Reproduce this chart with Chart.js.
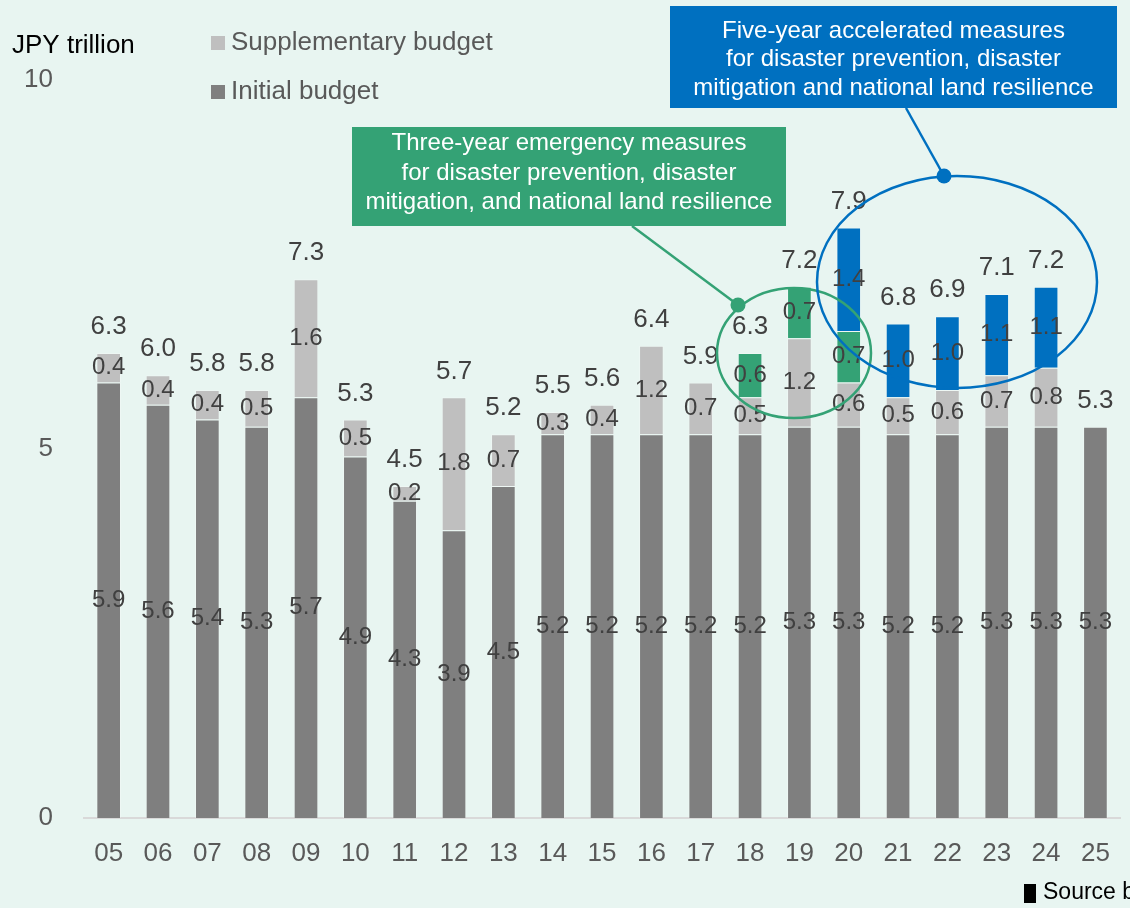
<!DOCTYPE html>
<html>
<head>
<meta charset="utf-8">
<title>Disaster prevention budget</title>
<script src="https://cdn.jsdelivr.net/npm/chart.js@4.4.1/dist/chart.umd.min.js"></script>
<style>
  html, body { margin: 0; padding: 0; background: #e8f5f1; }
  #wrap { width: 1130px; height: 908px; position: relative; overflow: hidden; }
  canvas { display: block; }
</style>
</head>
<body>
<div id="wrap"><canvas id="chart" width="1130" height="908"></canvas></div>
<script>
// Fiscal years (two-digit)
const years = ['05','06','07','08','09','10','11','12','13','14','15','16','17','18','19','20','21','22','23','24','25'];

// JPY trillion
const initialBudget       = [5.9, 5.6, 5.4, 5.3, 5.7, 4.9, 4.3, 3.9, 4.5, 5.2, 5.2, 5.2, 5.2, 5.2, 5.3, 5.3, 5.2, 5.2, 5.3, 5.3, 5.3];
const supplementaryBudget = [0.4, 0.4, 0.4, 0.5, 1.6, 0.5, 0.2, 1.8, 0.7, 0.3, 0.4, 1.2, 0.7, 0.5, 1.2, 0.6, 0.5, 0.6, 0.7, 0.8, null];
const threeYearMeasures   = [null, null, null, null, null, null, null, null, null, null, null, null, null, 0.6, 0.7, 0.7, null, null, null, null, null];
const fiveYearMeasures    = [null, null, null, null, null, null, null, null, null, null, null, null, null, null, null, 1.4, 1.0, 1.0, 1.1, 1.1, null];
const totalLabels         = ['6.3','6.0','5.8','5.8','7.3','5.3','4.5','5.7','5.2','5.5','5.6','6.4','5.9','6.3','7.2','7.9','6.8','6.9','7.1','7.2','5.3'];
const yTicks = [0, 5, 10];

const FONT = "'Liberation Sans', Arial, sans-serif";
const GRAY_DARK = '#7f7f7f';
const GRAY_LIGHT = '#bfbfbf';
const GREEN = '#34a275';
const BLUE = '#0070c0';
const SEGMENT_EDGE = 'rgba(255,255,255,0.25)';

Chart.defaults.font.family = FONT;

// Value labels inside each segment and totals above each stack
const valueLabels = {
  id: 'valueLabels',
  afterDatasetsDraw(chart) {
    const ctx = chart.ctx;
    ctx.save();
    ctx.fillStyle = '#404040';
    ctx.textAlign = 'center';
    ctx.textBaseline = 'middle';
    const tops = new Array(years.length).fill(Infinity);
    const xs = new Array(years.length).fill(0);
    ctx.font = '24px ' + FONT;
    chart.data.datasets.forEach((ds, i) => {
      const meta = chart.getDatasetMeta(i);
      meta.data.forEach((el, j) => {
        const v = ds.data[j];
        if (v === null || v === undefined) return;
        ctx.fillText(v.toFixed(1), el.x, (el.y + el.base) / 2);
        if (el.y < tops[j]) { tops[j] = el.y; xs[j] = el.x; }
      });
    });
    ctx.font = '26px ' + FONT;
    totalLabels.forEach((t, j) => {
      ctx.fillText(t, xs[j], tops[j] - 26);
    });
    ctx.restore();
  }
};

// Header text, legend, callouts and source note
function callout(ctx, box, color, lines, lineYs) {
  ctx.fillStyle = color;
  ctx.fillRect(box.x, box.y, box.w, box.h);
  ctx.fillStyle = '#ffffff';
  ctx.font = '24px ' + FONT;
  ctx.textAlign = 'center';
  ctx.textBaseline = 'middle';
  lines.forEach((l, i) => ctx.fillText(l, box.x + box.w / 2, lineYs[i]));
}
function ring(ctx, e, color, width) {
  ctx.strokeStyle = color;
  ctx.lineWidth = width;
  ctx.beginPath();
  ctx.ellipse(e.cx, e.cy, e.rx, e.ry, 0, 0, Math.PI * 2);
  ctx.stroke();
}
function leader(ctx, from, to, color, width, r) {
  ctx.strokeStyle = color;
  ctx.lineWidth = width;
  ctx.beginPath();
  ctx.moveTo(from.x, from.y);
  ctx.lineTo(to.x, to.y);
  ctx.stroke();
  ctx.fillStyle = color;
  ctx.beginPath();
  ctx.arc(to.x, to.y, r, 0, Math.PI * 2);
  ctx.fill();
}

const decorations = {
  id: 'decorations',
  afterDraw(chart) {
    const ctx = chart.ctx;
    ctx.save();

    // unit
    ctx.fillStyle = '#000000';
    ctx.font = '26px ' + FONT;
    ctx.textAlign = 'left';
    ctx.textBaseline = 'middle';
    ctx.fillText('JPY trillion', 12, 46);

    // legend
    ctx.fillStyle = GRAY_LIGHT;
    ctx.fillRect(211, 36, 14, 14);
    ctx.fillStyle = GRAY_DARK;
    ctx.fillRect(211, 85, 14, 14);
    ctx.fillStyle = '#595959';
    ctx.fillText('Supplementary budget', 231, 43);
    ctx.fillText('Initial budget', 231, 92);

    // three-year emergency measures
    ring(ctx, {cx: 794, cy: 353, rx: 77, ry: 65}, GREEN, 2.5);
    leader(ctx, {x: 632, y: 226}, {x: 738, y: 305}, GREEN, 2.5, 7.5);
    callout(ctx, {x: 352, y: 127, w: 434, h: 99}, GREEN,
      ['Three-year emergency measures', 'for disaster prevention, disaster', 'mitigation, and national land resilience'],
      [143.5, 173, 202.5]);

    // five-year accelerated measures
    ring(ctx, {cx: 957, cy: 282, rx: 140, ry: 106}, BLUE, 2.5);
    leader(ctx, {x: 906, y: 108}, {x: 944, y: 176}, BLUE, 2.5, 7.5);
    callout(ctx, {x: 670, y: 6, w: 447, h: 102}, BLUE,
      ['Five-year accelerated measures', 'for disaster prevention, disaster', 'mitigation and national land resilience'],
      [31, 59.5, 88]);

    // source note
    ctx.fillStyle = '#000000';
    ctx.fillRect(1024, 884, 12, 19);
    ctx.font = '23px ' + FONT;
    ctx.textAlign = 'left';
    ctx.textBaseline = 'middle';
    ctx.fillText('Source based on', 1043, 893);

    ctx.restore();
  }
};

new Chart(document.getElementById('chart'), {
  type: 'bar',
  data: {
    labels: years,
    datasets: [
      { label: 'Initial budget', data: initialBudget, backgroundColor: GRAY_DARK },
      { label: 'Supplementary budget', data: supplementaryBudget, backgroundColor: GRAY_LIGHT },
      { label: 'Three-year emergency measures', data: threeYearMeasures, backgroundColor: GREEN },
      { label: 'Five-year accelerated measures', data: fiveYearMeasures, backgroundColor: BLUE }
    ]
  },
  options: {
    responsive: false,
    animation: false,
    events: [],
    datasets: { bar: { barPercentage: 0.5, categoryPercentage: 1.0, borderWidth: 1, borderColor: SEGMENT_EDGE } },
    layout: { padding: { top: 80, right: 5, bottom: 0, left: 0 } },
    plugins: { legend: { display: false }, tooltip: { enabled: false }, title: { display: false } },
    scales: {
      x: {
        stacked: true,
        grid: { display: false, drawTicks: false },
        border: { display: true, color: '#d9d9d9', width: 2 },
        ticks: { color: '#595959', font: { size: 26 }, padding: 20, maxRotation: 0, autoSkip: false },
        afterFit(s) { s.height = 90; }
      },
      y: {
        stacked: true,
        min: 0,
        max: 10,
        grid: { display: false, drawTicks: false },
        border: { display: false },
        afterBuildTicks(s) { s.ticks = yTicks.map(v => ({ value: v })); },
        ticks: { color: '#595959', font: { size: 26 }, padding: 31 },
        afterFit(s) { s.width = 84; }
      }
    }
  },
  plugins: [valueLabels, decorations]
});
</script>
</body>
</html>
